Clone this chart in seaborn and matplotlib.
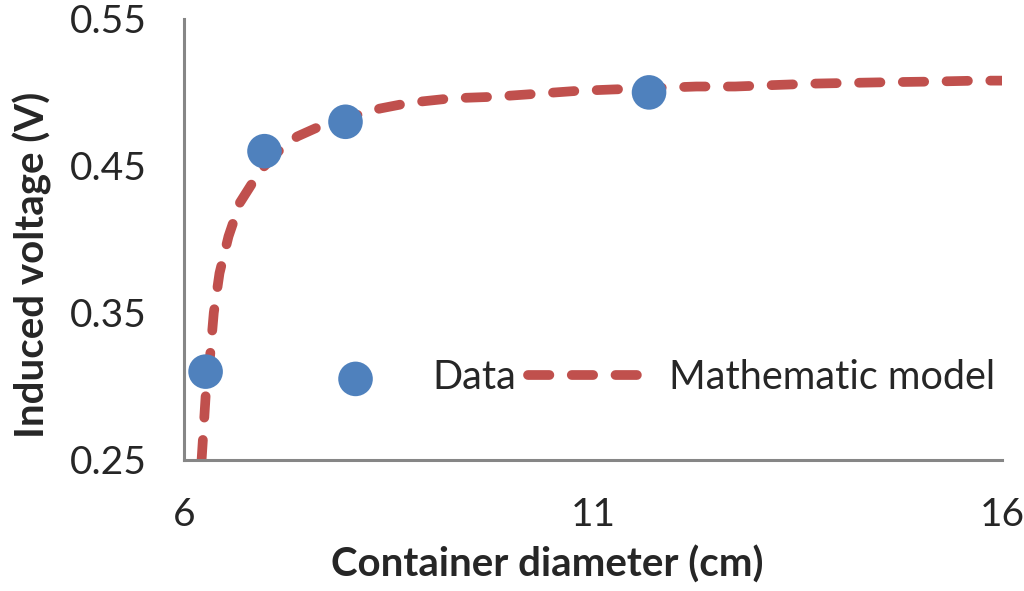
import pandas as pd
import numpy as np
import seaborn as sns
import matplotlib.pyplot as plt

# =========================================================
# DATA
# =========================================================
data_x = [6.26, 6.98, 7.97, 11.68]
data_y = [0.31, 0.46, 0.48, 0.50]

model_x = [6.21, 6.24, 6.26, 6.30, 6.36, 6.43, 6.54, 6.68, 6.93, 7.17,
           7.38, 7.70, 8.39, 8.76, 9.27, 9.78, 10.29, 10.79, 11.24, 12.26,
           12.73, 13.21, 13.71, 14.17, 14.67, 15.18, 15.69, 16.0]
model_y = [0.249, 0.275, 0.293, 0.311, 0.350, 0.377, 0.402, 0.425, 0.447, 0.461,
           0.470, 0.478, 0.489, 0.493, 0.496, 0.497, 0.499, 0.501, 0.502, 0.504,
           0.504, 0.505, 0.506, 0.5065, 0.507, 0.5074, 0.508, 0.508]

x_ticks = [6, 11, 16]
y_ticks = [0.25, 0.35, 0.45, 0.55]

df_data = pd.DataFrame({"x": data_x, "y": data_y})
df_model = pd.DataFrame({"x": model_x, "y": model_y})

# =========================================================
# PLOT
# =========================================================
sns.set_style("white")
plt.rcParams['font.family'] = ['Lato', 'DejaVu Sans']

blue = "#4F81BD"
red = "#C0504D"
axis_gray = "#868686"

fig, ax = plt.subplots(figsize=(10.24, 5.91), dpi=100)
fig.subplots_adjust(left=0.18, right=0.979, top=0.968, bottom=0.222)

sns.lineplot(ax=ax, data=df_model, x="x", y="y", estimator=None, sort=False,
             color=red, linewidth=7, label="Mathematic model", zorder=2)
ax.lines[0].set_dashes((2.2, 2.3))
ax.lines[0].set_dash_capstyle("round")

sns.scatterplot(ax=ax, data=df_data, x="x", y="y", color=blue, s=620,
                edgecolor="none", label="Data", zorder=3)

ax.set_xlim(6, 16)
ax.set_ylim(0.25, 0.55)
ax.set_xticks(x_ticks)
ax.set_yticks(y_ticks)
ax.set_yticklabels([f"{v:.2f}" for v in y_ticks])

ax.set_xlabel("Container diameter (cm)", fontsize=29, fontweight="bold")
ax.set_ylabel("Induced voltage (V)", fontsize=29, fontweight="bold")
ax.xaxis.set_label_coords(0.443, -0.195)
ax.yaxis.set_label_coords(-0.162, 0.442)
ax.tick_params(axis="both", labelsize=28, direction="out", length=9, width=2.2,
               color=axis_gray)
ax.tick_params(axis="x", pad=18)
ax.tick_params(axis="y", pad=18)

for side in ["top", "right"]:
    ax.spines[side].set_visible(False)
for side in ["left", "bottom"]:
    ax.spines[side].set_color(axis_gray)
    ax.spines[side].set_linewidth(2.2)

# legend: Data first, then model
handles, labels = ax.get_legend_handles_labels()
order = [labels.index("Data"), labels.index("Mathematic model")]
ax.legend([handles[i] for i in order], [labels[i] for i in order],
          frameon=False, ncol=2, fontsize=28.5, handlelength=3.2,
          columnspacing=0.3, handletextpad=0.35, borderpad=0.1,
          loc="center right", bbox_to_anchor=(1.02, 0.186))

plt.savefig("out.png", dpi=100)
